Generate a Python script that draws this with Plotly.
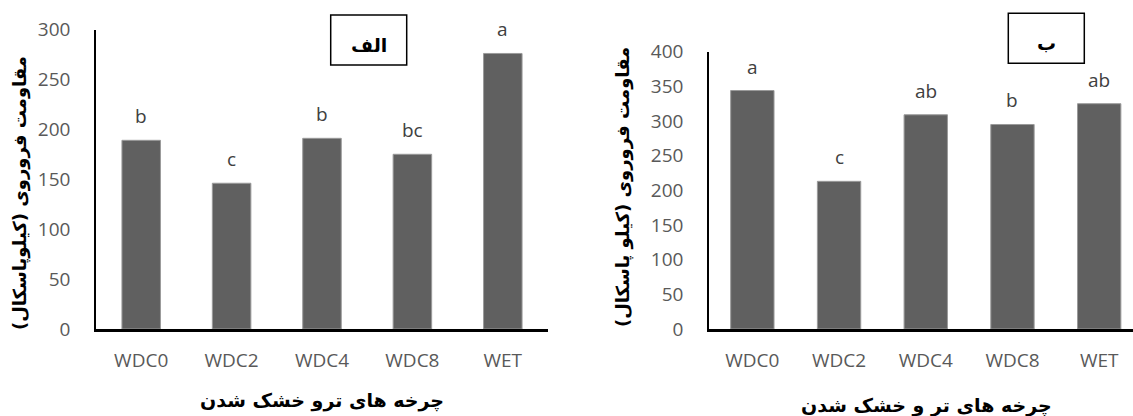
import plotly.graph_objects as go

# Data
categories = ["WDC0", "WDC2", "WDC4", "WDC8", "WET"]
resistance_a = [189, 146, 191, 175, 276]   # panel الف (kPa)
resistance_b = [344, 213, 309, 295, 325]   # panel ب (kPa)
letters_a = ["b", "c", "b", "bc", "a"]
letters_b = ["a", "c", "ab", "b", "ab"]
yticks_a = [0, 50, 100, 150, 200, 250, 300]
yticks_b = [0, 50, 100, 150, 200, 250, 300, 350, 400]

W, H = 1133, 416
def px(x):
    return x / W
def py(y):
    return 1 - y / H

BAR = "#606060"
TICK_FONT = dict(family="Open Sans", size=19, color="#595959")
FA_FONT = "DejaVu Sans"

fig = go.Figure()
fig.add_trace(go.Bar(x=categories, y=resistance_a, width=0.426,
                     marker=dict(color=BAR, line=dict(color="#9a9a9a", width=1)),
                     xaxis="x", yaxis="y", showlegend=False))
fig.add_trace(go.Bar(x=categories, y=resistance_b, width=0.5,
                     marker=dict(color=BAR, line=dict(color="#9a9a9a", width=1)),
                     xaxis="x2", yaxis="y2", showlegend=False))

common_x = dict(type="category", showline=True, linecolor="black", linewidth=2.5,
                ticks="", showgrid=False, zeroline=False, tickfont=TICK_FONT,
                ticklabelstandoff=12, automargin=False)
common_y = dict(showline=True, linecolor="black", linewidth=1.5, ticks="",
                showgrid=False, zeroline=False, tickfont=TICK_FONT,
                ticklabelstandoff=20, automargin=False)

fig.update_layout(
    width=W, height=H, autosize=False,
    margin=dict(l=0, r=0, t=0, b=0, pad=0, autoexpand=False),
    showlegend=False,
    paper_bgcolor="white", plot_bgcolor="white",
    xaxis=dict(domain=[px(96), px(548)], range=[-0.5, 4.5], anchor="y", **common_x),
    yaxis=dict(domain=[py(329), py(29.5)], range=[0, 300], tickvals=yticks_a,
               anchor="x", **common_y),
    xaxis2=dict(domain=[px(709), 1.0], range=[-0.5, 4.39], anchor="y2", **common_x),
    yaxis2=dict(domain=[py(329), py(51.7)], range=[0, 400], tickvals=yticks_b,
                anchor="x2", **common_y),
)

annotations = []
# significance letters above the bars
for cat, v, t in zip(categories, resistance_a, letters_a):
    annotations.append(dict(x=cat, y=v, xref="x", yref="y", text=t, showarrow=False,
                            xanchor="center", yanchor="middle", yshift=24,
                            font=dict(family="Open Sans", size=19, color="#404040")))
for cat, v, t in zip(categories, resistance_b, letters_b):
    annotations.append(dict(x=cat, y=v, xref="x2", yref="y2", text=t, showarrow=False,
                            xanchor="center", yanchor="middle", yshift=24,
                            font=dict(family="Open Sans", size=19, color="#404040")))

def label(x, y, text, size, angle=0):
    return dict(x=px(x), y=py(y), xref="paper", yref="paper", showarrow=False,
                xanchor="center", yanchor="middle", text=text, textangle=angle,
                font=dict(family=FA_FONT, size=size, color="black"))

# axis titles and panel labels
annotations += [
    label(20, 193, "<b>مقاومت فروروی (کیلوپاسکال)</b>", 18, -90),
    label(623, 187, "<b>مقاومت فروروی (کیلو پاسکال)</b>", 18, -90),
    label(322, 400, "<b>چرخه های ترو خشک شدن</b>", 19),
    label(926, 405, "<b>چرخه های تر و خشک شدن</b>", 19),
    label(368.7, 45, "<b>الف</b>", 19),
    label(1046.3, 43, "<b>ب</b>", 19),
]

shapes = [
    dict(type="rect", xref="paper", yref="paper", x0=px(330.7), x1=px(406.7),
         y0=py(65), y1=py(15), line=dict(color="black", width=1.5)),
    dict(type="rect", xref="paper", yref="paper", x0=px(1008.3), x1=px(1084.3),
         y0=py(63.3), y1=py(13.3), line=dict(color="black", width=1.5)),
]

fig.update_layout(annotations=annotations, shapes=shapes)
fig.write_html("out.html")
